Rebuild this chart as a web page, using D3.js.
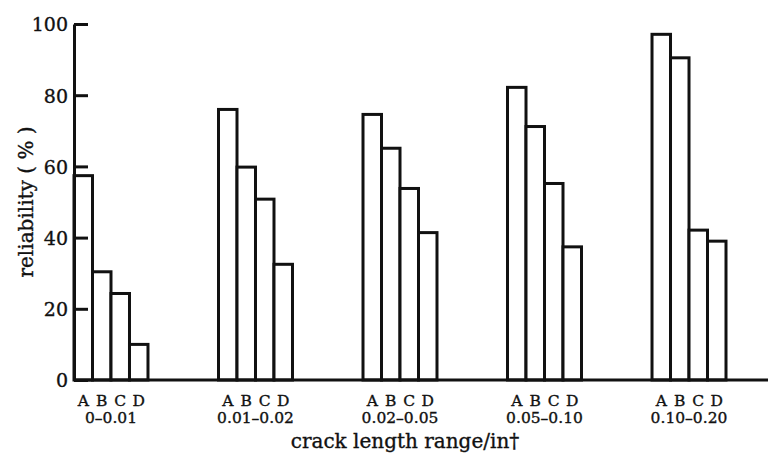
<!DOCTYPE html>
<html>
<head>
<meta charset="utf-8">
<script src="https://cdn.jsdelivr.net/npm/d3@7"></script>
<style>
  body { margin: 0; background: #fff; }
  text { font-family: "DejaVu Serif", serif; fill: #111; stroke: #111; stroke-width: 0.35px; }
</style>
</head>
<body>
<div id="chart"></div>
<script>
// Crack length ranges (x groups) and inspector labels within each group
const ranges = ["0–0.01", "0.01–0.02", "0.02–0.05", "0.05–0.10", "0.10–0.20"];
const letters = ["A", "B", "C", "D"];

// Reliability (%) per letter, one value per range
const valuesA = [57.4, 76.0, 74.6, 82.2, 97.1];
const valuesB = [30.4, 59.8, 65.1, 71.2, 90.5];
const valuesC = [24.3, 50.8, 53.8, 55.2, 42.1];
const valuesD = [10.0, 32.5, 41.4, 37.4, 39.0];

const yTicks = [0, 20, 40, 60, 80, 100];

const series = {A: valuesA, B: valuesB, C: valuesC, D: valuesD};
const data = [];
ranges.forEach((r, i) => {
    letters.forEach(l => data.push({range: r, letter: l, value: series[l][i]}));
});

const width = 771, height = 454;
const margin = {top: 24, right: 3, bottom: 74, left: 74};

const svg = d3.select("#chart")
    .append("svg")
    .attr("width", width)
    .attr("height", height);

// Scales
const x0 = d3.scaleBand()
    .domain(ranges)
    .range([margin.left, 726])
    .paddingInner(0.488)
    .paddingOuter(0);

const x1 = d3.scaleBand()
    .domain(letters)
    .range([0, x0.bandwidth()]);

const yScale = d3.scaleLinear()
    .domain([0, 100])
    .range([height - margin.bottom, margin.top]);

const y0 = yScale(0);

// Bars
svg.append("g")
    .selectAll("rect")
    .data(data)
    .enter().append("rect")
    .attr("x", d => x0(d.range) + x1(d.letter))
    .attr("y", d => yScale(d.value))
    .attr("width", x1.bandwidth())
    .attr("height", d => y0 - yScale(d.value))
    .attr("fill", "#fff")
    .attr("stroke", "#111")
    .attr("stroke-width", 3);

// Y axis, ticks point inward
const yAxis = svg.append("g")
    .attr("transform", `translate(${margin.left},0)`)
    .call(d3.axisLeft(yScale).tickValues(yTicks).tickSizeInner(-14).tickSizeOuter(0).tickPadding(6));

yAxis.select(".domain").attr("stroke", "#111").attr("stroke-width", 3);
yAxis.selectAll(".tick line").attr("stroke", "#111").attr("stroke-width", 3);
yAxis.selectAll(".tick text")
    .style("font-family", "DejaVu Serif, serif")
    .style("font-size", "19px")
    .attr("dy", "0.36em")
    .attr("fill", "#111");

// Baseline
svg.append("line")
    .attr("x1", margin.left)
    .attr("x2", width - margin.right)
    .attr("y1", y0)
    .attr("y2", y0)
    .attr("stroke", "#111")
    .attr("stroke-width", 3);

// Letter labels under each bar
svg.append("g")
    .selectAll("text")
    .data(data)
    .enter().append("text")
    .attr("x", d => x0(d.range) + x1(d.letter) + x1.bandwidth() / 2)
    .attr("y", 406)
    .attr("text-anchor", "middle")
    .style("font-size", "15.5px")
    .text(d => d.letter);

// Range labels under each group
svg.append("g")
    .selectAll("text")
    .data(ranges)
    .enter().append("text")
    .attr("x", d => x0(d) + x0.bandwidth() / 2)
    .attr("y", 423)
    .attr("text-anchor", "middle")
    .style("font-size", "15.5px")
    .text(d => d);

// x-axis label
svg.append("text")
    .attr("x", 405)
    .attr("y", 448)
    .attr("text-anchor", "middle")
    .style("font-size", "20px")
    .text("crack length range/in†");

// y-axis label
svg.append("text")
    .attr("x", -202)
    .attr("y", 33)
    .attr("text-anchor", "middle")
    .attr("transform", "rotate(-90)")
    .style("font-size", "20px")
    .text("reliability ( % )");
</script>
</body>
</html>
